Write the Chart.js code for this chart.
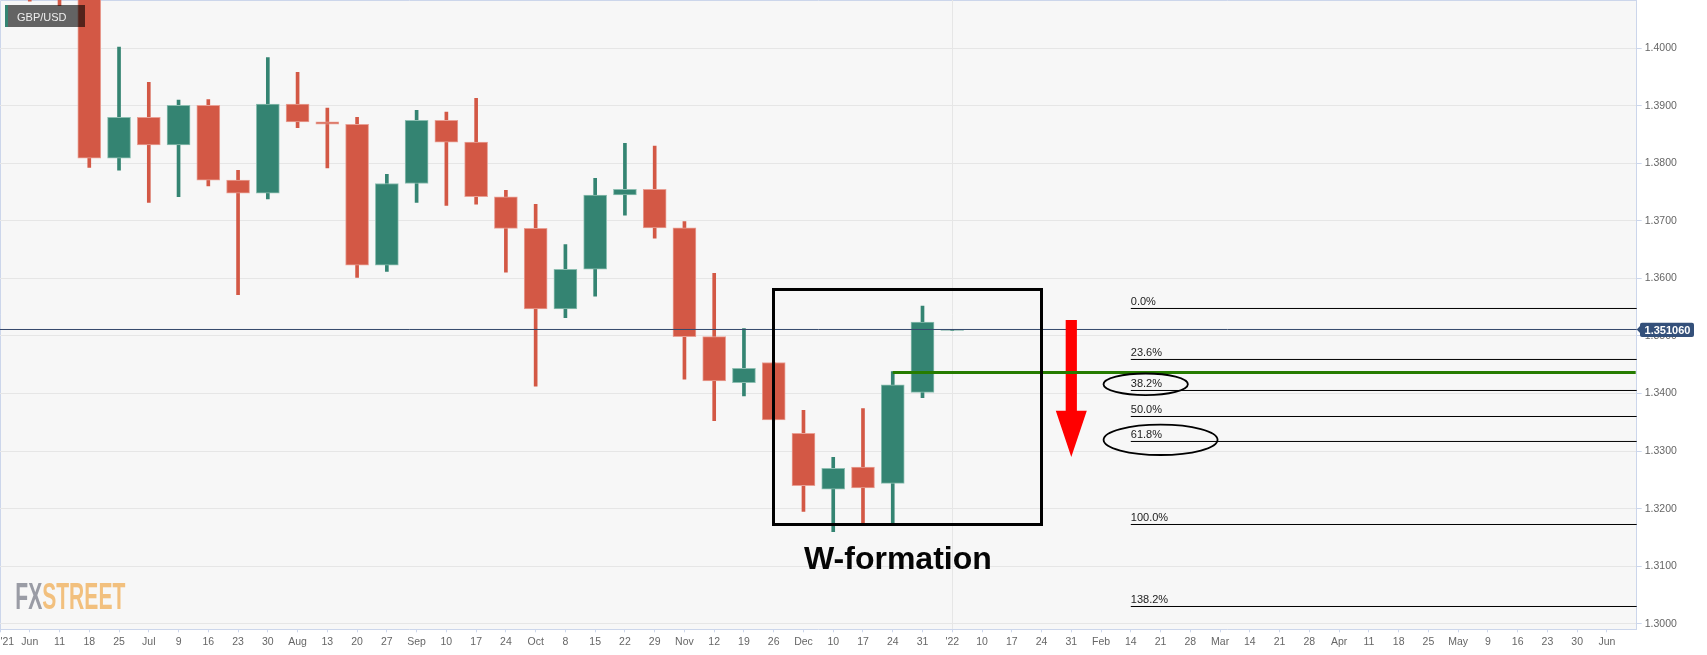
<!DOCTYPE html>
<html><head><meta charset="utf-8">
<style>html,body{margin:0;padding:0;background:#fff}canvas{display:block}</style>
<script src="https://cdn.jsdelivr.net/npm/chart.js@4"></script>
</head><body><canvas id="c" width="1707" height="655"></canvas>
<script>
const xLabels = ["'21","Jun","11","18","25","Jul","9","16","23","30","Aug","13","20","27","Sep","10","17","24","Oct","8","15","22","29","Nov","12","19","26","Dec","10","17","24","31","'22","10","17","24","31","Feb","14","21","28","Mar","14","21","28","Apr","11","18","25","May","9","16","23","30","Jun",""];
const yTicks = [1.30,1.31,1.32,1.33,1.34,1.35,1.36,1.37,1.38,1.39,1.40];
const opens  = [null,1.4400,1.4300,1.4190,1.3809,1.3880,1.3832,1.3901,1.3771,1.3748,1.3903,1.3872,1.3868,1.3623,1.3765,1.3875,1.3837,1.3742,1.3687,1.3547,1.3616,1.3745,1.3755,1.3688,1.3499,1.3419,1.3454,1.3331,1.3234,1.3272,1.3244,1.3402,1.35095];
const closes = [null,1.4300,1.4190,1.3809,1.3880,1.3832,1.3901,1.3771,1.3748,1.3903,1.3872,1.3868,1.3623,1.3765,1.3875,1.3837,1.3742,1.3687,1.3547,1.3616,1.3745,1.3755,1.3688,1.3499,1.3422,1.3444,1.3354,1.3240,1.3270,1.3236,1.3415,1.3524,1.35105];
const highs  = [null,1.4450,1.4320,1.4230,1.4002,1.3941,1.3910,1.3911,1.3788,1.3984,1.3958,1.3896,1.3880,1.3781,1.3892,1.3889,1.3913,1.3753,1.3729,1.3659,1.3774,1.3835,1.3830,1.3699,1.3609,1.3513,1.3454,1.3371,1.3289,1.3374,1.3438,1.3552,1.35105];
const lows   = [null,1.4082,1.4074,1.3793,1.3788,1.3732,1.3742,1.3761,1.3572,1.3738,1.3862,1.3792,1.3602,1.3612,1.3732,1.3727,1.3729,1.3611,1.3413,1.3532,1.3569,1.3710,1.3670,1.3425,1.3353,1.3396,1.3354,1.3195,1.3160,1.3172,1.3173,1.3393,1.35095];
const fibNames  = ["0.0%","23.6%","38.2%","50.0%","61.8%","100.0%","138.2%"];
const fibLevels = [1.35478,1.34592,1.34053,1.33601,1.33167,1.31724,1.30299];
const lastPrice = 1.35113;
const lastPriceText = "1.351060";
const resistance = 1.34366;

const RED='#d35845', GREEN='#348472', REDB='#e9a095', GREENB='#8cbeb1';
const isUp = i => closes[i] > opens[i];
const fibStart = 38, resStart = 30, lastIdx = xLabels.length-1, newYear = xLabels.indexOf("'22");

function flat(x0,x1,y){return [{x:x0,y},{x:x1,y}];}
const lineBase = {type:'line',parsing:false,pointRadius:0,borderWidth:1,borderColor:'#000',fill:false,tension:0,order:1};

const annotations = {
  id:'annotations',
  beforeDraw(ch){
    const {ctx,chartArea:a}=ch;
    ctx.save();
    ctx.fillStyle='#f7f7f7';
    ctx.fillRect(a.left,a.top,a.right-a.left,a.bottom-a.top);
    ctx.strokeStyle='#ccd6eb';ctx.lineWidth=1;
    ctx.beginPath();ctx.moveTo(0.5,a.bottom);ctx.lineTo(0.5,0.5);ctx.lineTo(a.right,0.5);ctx.stroke();
    ctx.restore();
  },
  afterDatasetsDraw(ch){
    const {ctx,scales:{x,y}}=ch;
    const X=v=>x.getPixelForValue(v), Y=v=>y.getPixelForValue(v);
    const unitX=X(1)-X(0), unitY=Y(1.30)-Y(1.31);
    ctx.save();
    // red arrow
    const ax=X(36), hw=5.6, hh=15.5;
    ctx.fillStyle='#ff0000';
    ctx.beginPath();
    ctx.moveTo(ax-hw,Y(1.35278));ctx.lineTo(ax+hw,Y(1.35278));ctx.lineTo(ax+hw,Y(1.33702));
    ctx.lineTo(ax+hh,Y(1.33702));ctx.lineTo(ax,Y(1.32897));ctx.lineTo(ax-hh,Y(1.33702));
    ctx.lineTo(ax-hw,Y(1.33702));ctx.closePath();ctx.fill();
    // resistance line (over the arrow)
    ctx.strokeStyle='#267c00';ctx.lineWidth=3;
    ctx.beginPath();ctx.moveTo(X(resStart),Y(resistance));ctx.lineTo(X(lastIdx)-1,Y(resistance));ctx.stroke();
    // W box
    ctx.strokeStyle='#000';ctx.lineWidth=3;
    const L=Math.floor(X(26))+0.5,R=Math.floor(X(35))+0.5,T=Y(1.35808),B=Y(1.31724);
    ctx.strokeRect(L,T,R-L,B-T);
    // ellipses
    ctx.lineWidth=1.8;
    ctx.beginPath();ctx.ellipse(X(38.5),Y(1.3416),1.418*unitX,0.00188*unitY*100,0,0,Math.PI*2);ctx.stroke();
    ctx.beginPath();ctx.ellipse(X(39.0),Y(1.33196),1.915*unitX,0.00264*unitY*100,0,0,Math.PI*2);ctx.stroke();
    // fib labels
    ctx.fillStyle='#222';ctx.font='11px "Liberation Sans"';ctx.textAlign='left';ctx.textBaseline='alphabetic';
    fibNames.forEach((t,i)=>ctx.fillText(t,X(fibStart),Y(fibLevels[i])-3));
    // W-formation text
    ctx.fillStyle='#050505';ctx.font='bold 32px "Liberation Sans"';
    ctx.fillText('W-formation',804,568.7);
    // legend tag
    ctx.fillStyle='rgba(0,0,0,0.6)';ctx.fillRect(5,5,80,22);
    ctx.fillStyle=GREEN;ctx.fillRect(5,5,3,22);
    ctx.fillStyle='#eeeeee';ctx.font='11px "Liberation Sans"';ctx.fillText('GBP/USD',17,20.5);
    // logo
    ctx.save();ctx.translate(15.3,609);ctx.scale(0.585,1);
    ctx.font='bold 36px "Liberation Sans"';
    ctx.fillStyle='#9a9ca5';ctx.fillText('FX',0,0);
    const w=ctx.measureText('FX').width;
    ctx.fillStyle='#f2c07e';ctx.fillText('STREET',w,0);
    ctx.restore();
    // last price tag
    const py=Y(lastPrice);
    ctx.fillStyle='#34507a';
    ctx.beginPath();ctx.roundRect(1640,322.7,54,14.3,2);ctx.fill();
    ctx.beginPath();ctx.moveTo(1636.7,py);ctx.lineTo(1640.5,py-4);ctx.lineTo(1640.5,py+4);ctx.closePath();ctx.fill();
    ctx.fillStyle='#fff';ctx.font='bold 11px "Liberation Sans"';ctx.textAlign='center';ctx.textBaseline='middle';
    ctx.fillText(lastPriceText,1667.5,330.5);
    ctx.restore();
  }
};

new Chart(document.getElementById('c'),{
  type:'bar',
  data:{labels:xLabels,datasets:[
    {label:'Wick',data:highs.map((h,i)=>h===null?null:[lows[i],h]),grouped:false,barThickness:3,borderWidth:0,
      backgroundColor:c=>isUp(c.dataIndex)?GREEN:RED,order:4},
    {label:'Body',data:opens.map((o,i)=>o===null?null:[Math.min(o,closes[i]),Math.max(o,closes[i])]),grouped:false,barThickness:23,minBarLength:1,
      borderSkipped:false,borderWidth:1,
      backgroundColor:c=>isUp(c.dataIndex)?GREEN:RED,borderColor:c=>isUp(c.dataIndex)?GREENB:REDB,order:3},
    ...fibLevels.map((v,i)=>({...lineBase,label:fibNames[i],data:flat(fibStart,lastIdx,v)})),
    {...lineBase,label:'Last',data:flat(0,lastIdx,lastPrice),borderColor:'#34486b',order:2}
  ]},
  plugins:[annotations],
  options:{
    responsive:false,animation:false,devicePixelRatio:1,
    layout:{padding:0,autoPadding:false},
    plugins:{legend:{display:false},tooltip:{enabled:false}},
    scales:{
      x:{type:'category',offset:false,
        grid:{offset:false,drawTicks:true,tickLength:3,
          color:c=>c.index===newYear?'#e6e6e6':'rgba(0,0,0,0)',
          tickColor:c=>c.index===lastIdx?'rgba(0,0,0,0)':'#ccd6eb'},
        border:{display:true,color:'#ccd6eb',width:1},
        ticks:{autoSkip:false,maxRotation:0,minRotation:0,padding:4,color:'#666',font:{family:'"Liberation Sans"',size:10.5},
          callback(v,i){const t=xLabels[i];return i===0?'     '+t:t;}},
        afterFit(s){s.height=25.7;s.paddingLeft=0;s.paddingRight=0;}
      },
      y:{type:'linear',position:'right',min:1.299027,max:1.408390,
        afterBuildTicks(s){s.ticks=yTicks.map(value=>({value}));},
        grid:{color:'#e6e6e6',tickLength:5,tickColor:'#ccd6eb',drawTicks:true},
        border:{display:true,color:'#ccd6eb',width:1},
        ticks:{padding:3,color:'#666',font:{family:'"Liberation Sans"',size:10.5},callback:v=>v.toFixed(4)},
        afterFit(s){s.width=70.3;s.paddingTop=0;s.paddingBottom=0;}
      }
    }
  }
});
</script></body></html>
